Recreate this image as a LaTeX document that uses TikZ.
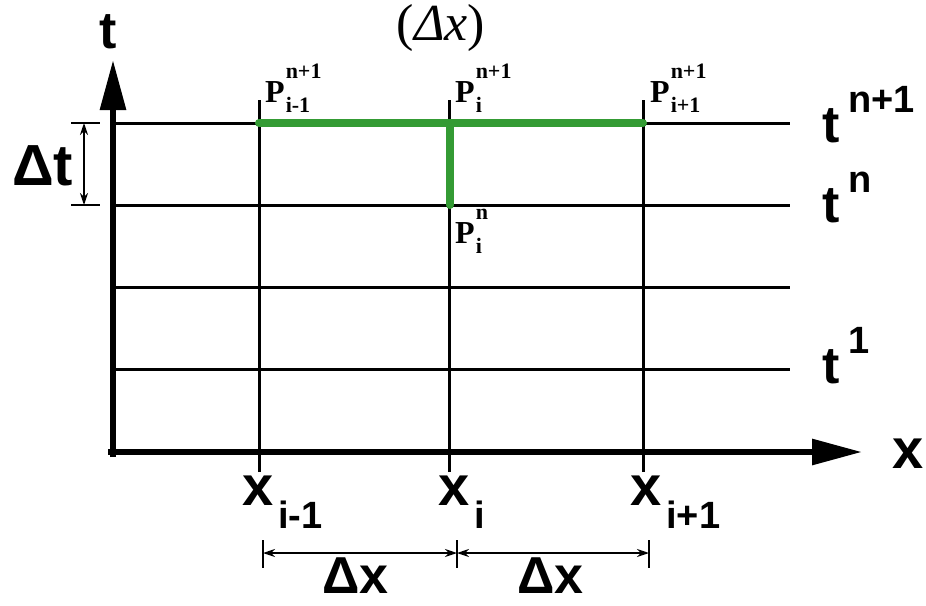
\documentclass[tikz,border=0pt]{standalone}
\usepackage{amsmath}
\usepackage{fontspec}
\usetikzlibrary{arrows.meta, positioning}
\newfontfamily\axisfont{Liberation Sans}
\newfontfamily\ptfont{Liberation Serif}
\definecolor{pathgreen}{RGB}{52,155,52}
% index and level helpers
\newcommand{\lowidx}[2]{#1\hspace{5pt}\raisebox{-23pt}{\fontsize{38}{38}\selectfont #2}}
\newcommand{\highidx}[2]{#1\hspace{9pt}\raisebox{30pt}{\fontsize{38}{38}\selectfont #2}}
\newcommand{\ptlab}[2]{P\hspace{1pt}\rlap{\raisebox{24pt}{\fontsize{22}{22}\selectfont #1}}\raisebox{-10pt}{\fontsize{22}{22}\selectfont #2}}
\tikzset{
    axisline/.style={line width=6pt, -{Triangle[length=50pt,width=25pt]}},
    gridline/.style={line width=3pt},
    dimline/.style={line width=1.5pt},
    dimarrow/.style={line width=1.5pt, {Stealth[length=12pt,width=8pt]}-{Stealth[length=12pt,width=8pt]}},
    greenpath/.style={line width=8pt, draw=pathgreen, line cap=round},
    lbl/.style={font=\axisfont\bfseries\fontsize{56}{56}\selectfont, inner sep=0pt, anchor=base west},
    ptlbl/.style={font=\ptfont\bfseries\fontsize{32}{32}\selectfont, inner sep=0pt, anchor=base west}
}
\begin{document}
\begin{tikzpicture}[x=1pt, y=-1pt]
    \useasboundingbox (0,0) rectangle (926,605);
    % grid points
    \coordinate (o) at (113,452);
    \coordinate (xa) at (259,452);
    \coordinate (xb) at (449,452);
    \coordinate (xc) at (643,452);
    \coordinate (top) at (113,123);
    \coordinate (lvn) at (113,205);
    \coordinate (lvm) at (113,287);
    \coordinate (lvone) at (113,369);
    % level lines
    \foreach \lv in {top, lvn, lvm, lvone}
        \draw [gridline] (\lv) -- ++(677,0);
    % node lines
    \foreach \xn in {xa, xb, xc}
        \draw [gridline] (\xn) ++(0,20) -- ++(0,-372);
    % axes
    \draw [axisline] (o) ++(-5,0) -- (862,452);
    \draw [axisline] (o) ++(0,5) -- (113,60);
    % stencil
    \draw [greenpath] (259,123) -- (643,123);
    \draw [greenpath] (450,123) -- (450,205);
    % time step
    \coordinate (dtup) at (84,123);
    \coordinate (dtdn) at (84,205);
    \draw [dimline] (71,123) -- (100,123);
    \draw [dimline] (71,205) -- (100,205);
    \draw [dimarrow] (dtup) -- (dtdn);
    % space steps
    \coordinate (dxa) at (263,553);
    \coordinate (dxb) at (457,553);
    \coordinate (dxc) at (649,553);
    \foreach \d in {dxa, dxb, dxc}
        \draw [dimline] (\d) ++(0,-13) -- ++(0,28);
    \draw [dimarrow] (dxa) -- (dxb);
    \draw [dimarrow] (dxb) -- (dxc);
    % labels
    \node (tlab) [lbl, font=\axisfont\bfseries\fontsize{52}{52}\selectfont] at (99,48) {t};
    \node (xlab) [lbl] at (892,468) {x};
    \node (dtlab) [lbl, font=\axisfont\bfseries\fontsize{58}{58}\selectfont] at (12,185) {Δt};
    \node (tnp) [lbl, font=\axisfont\bfseries\fontsize{52}{52}\selectfont] at (822,142) {\highidx{t}{n+1}};
    \node (tn) [lbl, font=\axisfont\bfseries\fontsize{52}{52}\selectfont] at (822,222) {\highidx{t}{n}};
    \node (tone) [lbl, font=\axisfont\bfseries\fontsize{52}{52}\selectfont] at (822,383) {\highidx{t}{1}};
    \node (xim) [lbl] at (242,505) {\lowidx{x}{i-1}};
    \node (xi) [lbl] at (438,505) {\lowidx{x}{i}};
    \node (xip) [lbl] at (630,505) {\lowidx{x}{i+1}};
    \node (dxl) [lbl, font=\axisfont\bfseries\fontsize{52}{52}\selectfont] at (322,593) {Δx};
    \node (dxr) [lbl, font=\axisfont\bfseries\fontsize{52}{52}\selectfont] at (517,593) {Δx};
    \node (pim) [ptlbl] at (265,102) {\ptlab{n+1}{i-1}};
    \node (pi) [ptlbl] at (455,102) {\ptlab{n+1}{i}};
    \node (pip) [ptlbl] at (650,102) {\ptlab{n+1}{i+1}};
    \node (pin) [ptlbl] at (455,243) {\ptlab{n}{i}};
    \node (cap) [inner sep=0pt, anchor=base, font=\ptfont\fontsize{52}{52}\selectfont] at (441,40) {(\textit{Δx})};
\end{tikzpicture}
\end{document}
